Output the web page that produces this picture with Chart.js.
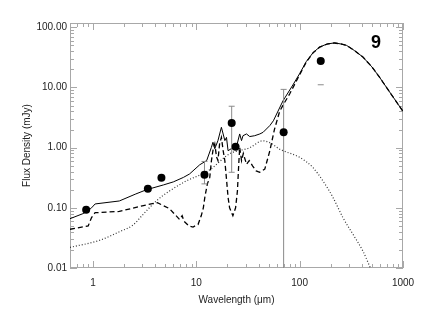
<!DOCTYPE html>
<html>
<head>
<meta charset="utf-8">
<script src="https://cdn.jsdelivr.net/npm/chart.js@4"></script>
<style>
  html, body { margin: 0; padding: 0; background: #fff; }
  canvas { display: block; }
</style>
</head>
<body>
<canvas id="sed" width="425" height="314"></canvas>
<script>
// total model (solid)
const solidX = [0.6, 0.8, 0.9, 0.97, 1.05, 1.8, 2.6, 3.3, 4.8, 6.0, 7.5, 8.6, 10.8, 12.6, 14.0, 14.5, 15.1, 16.2, 17.5, 18.9, 19.6, 20.3, 22.6, 24.4, 26.3, 27.4, 28.3, 30.6, 32.9, 36.7, 41.2, 44.3, 51.5, 55.7, 69, 86, 100, 116, 135, 156, 185, 217, 250, 285, 340, 410, 500, 590, 690, 800, 1000];
const solidY = [0.066, 0.08, 0.09, 0.1, 0.116, 0.13, 0.17, 0.2, 0.24, 0.27, 0.32, 0.365, 0.52, 0.61, 1.01, 1.23, 0.96, 1.31, 2.18, 1.31, 1.48, 0.89, 1.0, 1.01, 1.69, 1.31, 1.58, 1.69, 1.53, 1.58, 1.69, 1.8, 2.33, 2.8, 6.0, 11, 17, 27, 38, 47, 53, 55, 53, 50, 41, 32, 22, 15, 10.1, 7, 4.0];

// dashed component
const dashX = [0.6, 0.9, 0.97, 1.05, 1.8, 3.0, 4.2, 5.5, 6.9, 7.3, 7.6, 8.5, 9.3, 10.4, 11.2, 11.7, 12.1, 12.8, 13.5, 14.0, 14.5, 15.1, 15.7, 16.2, 16.8, 17.5, 18.2, 18.9, 19.6, 20.3, 21, 22.6, 24.0, 25.0, 25.7, 26.3, 27.4, 28.5, 30.6, 32.5, 35, 38, 41, 46, 51.5, 57, 64, 70, 80, 90, 100, 116, 135, 156, 185, 217, 250, 285, 340, 410, 500, 590, 690, 800, 1000];
const dashY = [0.044, 0.05, 0.069, 0.083, 0.087, 0.108, 0.122, 0.097, 0.064, 0.074, 0.06, 0.05, 0.048, 0.053, 0.075, 0.1, 0.15, 0.25, 0.32, 0.6, 0.9, 1.15, 0.7, 0.61, 1.15, 1.48, 0.89, 0.6, 0.3, 0.15, 0.1, 0.074, 0.1, 0.19, 0.5, 1.01, 0.61, 0.8, 0.53, 0.61, 0.5, 0.41, 0.39, 0.44, 0.89, 2.0, 4.0, 5.3, 7.8, 11.5, 16.3, 26.5, 37.7, 46.8, 52.8, 54.9, 53, 50, 41, 32, 22, 15, 10.1, 7, 4.0];

// dotted component
const dotX = [0.6, 1.17, 1.8, 2.45, 3.0, 4.1, 5.5, 8.0, 12, 14, 21, 33, 44, 52, 63.6, 69, 100, 134, 168, 210, 262, 326, 410, 490];
const dotY = [0.022, 0.029, 0.04, 0.052, 0.075, 0.13, 0.19, 0.28, 0.38, 0.45, 0.79, 1.0, 1.3, 1.2, 0.95, 0.89, 0.69, 0.47, 0.28, 0.149, 0.069, 0.037, 0.019, 0.0095];

// photometry
const obsX = [0.86, 3.4, 4.6, 12, 22, 24, 70, 160];
const obsY = [0.093, 0.207, 0.316, 0.355, 2.58, 1.04, 1.80, 27.5];

// error bars
const errX = [12, 22, 70];
const errLo = [0.25, 0.39, 0.001];
const errHi = [0.59, 4.88, 9.3];
const capX = [160];
const capY = [11.1];

const xTickValues = [1, 10, 100, 1000];
const yTickValues = [0.01, 0.1, 1, 10, 100];
const panelLabel = '9';

function pairs(xs, ys) {
  return xs.map((v, i) => ({x: v, y: ys[i]}));
}

const errSets = errX.map((v, i) => ({
  data: [{x: v, y: errLo[i]}, {x: v, y: errHi[i]}],
  showLine: true,
  borderColor: '#8a8a8a',
  borderWidth: 1,
  pointStyle: 'line',
  pointRadius: 3,
  pointBorderColor: '#8a8a8a',
  pointBorderWidth: 1,
  clip: 0
}));

const frame = {
  id: 'frame',
  beforeDatasetsDraw(chart) {
    const {ctx, chartArea: a, scales: {x, y}} = chart;
    ctx.save();
    ctx.strokeStyle = '#a8a8a8';
    ctx.lineWidth = 1;
    ctx.strokeRect(a.left + 0.5, a.top + 0.5, a.right - a.left - 1, a.bottom - a.top - 1);
    ctx.beginPath();
    for (const d of [0.1, 1, 10, 100, 1000]) {
      for (let m = 1; m < 10; m++) {
        const v = d * m;
        if (v < x.min || v > x.max) continue;
        const len = m === 1 ? 7 : 4;
        const px = Math.round(x.getPixelForValue(v)) + 0.5;
        ctx.moveTo(px, a.bottom);
        ctx.lineTo(px, a.bottom - len);
        ctx.moveTo(px, a.top);
        ctx.lineTo(px, a.top + len);
      }
    }
    for (const d of [0.001, 0.01, 0.1, 1, 10, 100]) {
      for (let m = 1; m < 10; m++) {
        const v = d * m;
        if (v < y.min || v > y.max) continue;
        const len = m === 1 ? 7 : 4;
        const py = Math.round(y.getPixelForValue(v)) + 0.5;
        ctx.moveTo(a.left, py);
        ctx.lineTo(a.left + len, py);
        ctx.moveTo(a.right, py);
        ctx.lineTo(a.right - len, py);
      }
    }
    ctx.stroke();
    ctx.restore();
  },
  afterDatasetsDraw(chart) {
    const {ctx, chartArea: a} = chart;
    ctx.save();
    ctx.font = 'bold 18px "Liberation Sans", Arial, sans-serif';
    ctx.fillStyle = '#000';
    ctx.textAlign = 'center';
    ctx.textBaseline = 'middle';
    ctx.fillText(panelLabel, a.right - 27, a.top + 20);
    ctx.restore();
  }
};

new Chart(document.getElementById('sed').getContext('2d'), {
  type: 'scatter',
  data: {
    datasets: [
      {
        data: pairs(obsX, obsY),
        pointRadius: 4,
        pointBackgroundColor: '#000',
        pointBorderColor: '#000',
        pointBorderWidth: 0
      },
      {
        data: pairs(capX, capY),
        pointStyle: 'line',
        pointRadius: 3,
        pointBorderColor: '#8a8a8a',
        pointBorderWidth: 1
      },
      ...errSets,
      {
        data: pairs(solidX, solidY),
        showLine: true,
        borderColor: '#000',
        borderWidth: 1,
        pointRadius: 0,
        tension: 0
      },
      {
        data: pairs(dashX, dashY),
        showLine: true,
        borderColor: '#000',
        borderWidth: 1.3,
        borderDash: [5, 3],
        pointRadius: 0,
        tension: 0
      },
      {
        data: pairs(dotX, dotY),
        showLine: true,
        borderColor: '#333',
        borderWidth: 1.2,
        borderDash: [1, 2],
        pointRadius: 0,
        cubicInterpolationMode: 'monotone'
      }
    ]
  },
  options: {
    responsive: false,
    animation: false,
    events: [],
    layout: {padding: {left: 0, top: 23, right: 22, bottom: 0}},
    plugins: {legend: {display: false}, tooltip: {enabled: false}},
    scales: {
      x: {
        type: 'logarithmic',
        min: 0.6,
        max: 1000,
        grid: {display: false, drawTicks: false},
        border: {display: false},
        afterBuildTicks: s => { s.ticks = xTickValues.map(v => ({value: v})); },
        afterFit: s => { s.height = 46; },
        ticks: {
          padding: 9,
          color: '#222',
          font: {family: '"Liberation Sans", Arial, sans-serif', size: 10},
          maxRotation: 0,
          callback: v => String(v)
        },
        title: {
          display: true,
          text: 'Wavelength (\u03bcm)',
          color: '#222',
          padding: {top: 0, bottom: 8},
          font: {family: '"Liberation Sans", Arial, sans-serif', size: 10}
        }
      },
      y: {
        type: 'logarithmic',
        min: 0.01,
        max: 118,
        grid: {display: false, drawTicks: false},
        border: {display: false},
        afterBuildTicks: s => { s.ticks = yTickValues.map(v => ({value: v})); },
        afterFit: s => { s.width = 70; },
        ticks: {
          padding: 3,
          color: '#222',
          font: {family: '"Liberation Sans", Arial, sans-serif', size: 10},
          callback: v => Number(v).toFixed(2)
        },
        title: {
          display: true,
          text: 'Flux Density (mJy)',
          color: '#222',
          padding: {top: 21, bottom: 0},
          font: {family: '"Liberation Sans", Arial, sans-serif', size: 10}
        }
      }
    }
  },
  plugins: [frame]
});
</script>
</body>
</html>
